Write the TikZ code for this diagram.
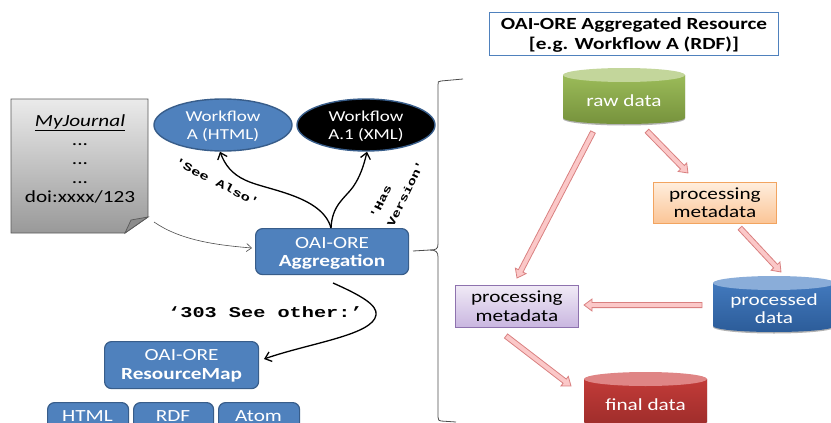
\documentclass[tikz,border=0pt]{standalone}
\usepackage{fontspec}
\setmainfont[FakeStretch=1.25]{Carlito}
\newfontfamily\lblmono[FakeStretch=1.35]{Liberation Mono}
\usetikzlibrary{calc,arrows.meta,shapes.geometric}
\definecolor{accentblue}{HTML}{4F81BD}
\definecolor{edgeblue}{HTML}{385D8A}
\definecolor{pinkfill}{HTML}{FBC8C8}
\definecolor{pinkedge}{HTML}{D98080}
\definecolor{grntop}{HTML}{C3D69B}
\definecolor{grnhi}{HTML}{9BBB59}
\definecolor{grnlo}{HTML}{76923C}
\definecolor{blutop}{HTML}{8AADD9}
\definecolor{bluhi}{HTML}{4279BD}
\definecolor{blulo}{HTML}{2C5C99}
\definecolor{redtop}{HTML}{DF8585}
\definecolor{redhi}{HTML}{C23B38}
\definecolor{redlo}{HTML}{9C2C2A}
\definecolor{orgA}{HTML}{FFEEDD}
\definecolor{orgB}{HTML}{FBC596}
\definecolor{orgE}{HTML}{F2A460}
\definecolor{purA}{HTML}{F0EAF6}
\definecolor{purB}{HTML}{C9B6E0}
\definecolor{purE}{HTML}{8E72AE}
\tikzset{
  x=1pt,y=-1pt,
  bluebox/.style={draw=edgeblue,line width=1.2pt,fill=accentblue,rounded corners=7pt,text=white,font=\fontsize{17}{18.5}\selectfont,align=center,inner sep=0pt,anchor=north west},
  blueoval/.style={ellipse,draw=edgeblue,line width=1.4pt,fill=accentblue,text=white,font=\fontsize{15.2}{17.5}\selectfont,align=center,inner sep=0pt},
  plainlabel/.style={font=\fontsize{17}{18.5}\selectfont,align=center,inner sep=0pt},
  whitelabel/.style={plainlabel,text=white},
  monolabel/.style={font=\lblmono\fontsize{15}{17}\selectfont,align=center,inner sep=0pt},
  bigblack/.style={draw=black,line width=1.3pt,-{Straight Barb[length=6pt,width=10pt]}},
  pinkarrow/.style={draw=pinkedge,line width=0.8pt,fill=pinkfill,line join=miter},
  procbox/.style={draw=#1,line width=0.8pt,inner sep=0pt,anchor=north west,align=center,font=\fontsize{17}{18.5}\selectfont},
  bracket/.style={draw=black!70,line width=0.8pt},
}
% text stack set lower than the centre of its node, by #1
\newcommand{\nudge}[2]{\raisebox{-#1}[\height][\depth]{\begin{tabular}{@{}c@{}}#2\end{tabular}}}
% #1 from, #2 to (named coordinates)
\newcommand{\blockarrow}[2]{%
  \coordinate (neck) at ($(#2)!8pt!(#1)$);
  \draw[pinkarrow]
    ($(#1)!2.6pt!90:(#2)$) -- ($(neck)!2.6pt!90:(#2)$) -- ($(neck)!6pt!90:(#2)$)
    -- (#2) -- ($(neck)!6pt!-90:(#2)$) -- ($(neck)!2.6pt!-90:(#2)$)
    -- ($(#1)!2.6pt!-90:(#2)$) -- cycle;
}
% #1 name, #2 x1, #3 y1, #4 x2, #5 y2, #6 top colour, #7 upper, #8 lower, #9 text
\newcommand{\datacyl}[9]{%
  \fill[black!30] (#2,#3+7) -- (#4,#3+7) -- (#4,#5-6) arc[x radius=(#4-#2)/2,y radius=6.5,start angle=0,end angle=180] -- cycle;
  \shade[top color=#7,bottom color=#8] (#2,#3+7) -- (#4,#3+7) -- (#4,#5-7) arc[x radius=(#4-#2)/2,y radius=6,start angle=0,end angle=180] -- cycle;
  \fill[#6] ({(#2+#4)/2},#3+7) ellipse[x radius=(#4-#2)/2,y radius=7];
  \node[whitelabel] (#1) at ({(#2+#4)/2},{(#3+#5)/2+4}) {#9};
}
\begin{document}
\begin{tikzpicture}
\useasboundingbox (0,0) rectangle (831,423);
\clip (0,0) rectangle (831,423);

% journal page
\shade[top color=white!92!black,bottom color=black!40,draw=black!65,line width=0.9pt]
  (11,99) -- (148,99) -- (148,217) -- (125,233) -- (11,233) -- cycle;
\fill[black!45,draw=black!65,line width=0.7pt] (148,217) -- (131,220) -- (125,233) -- cycle;
\node[plainlabel,anchor=north,font=\fontsize{17}{19}\selectfont] (journal) at (80,114) {\underline{\itshape MyJournal}\\...\\...\\...\\doi:xxxx/123};
\coordinate (journalout) at (154,222);

% resource title
\node[draw=accentblue,line width=1pt,fill=white,minimum width=289pt,minimum height=43pt,inner sep=0pt,anchor=north west,align=center,font=\bfseries\fontsize{17}{20}\selectfont] (title) at (489,12) {\nudge{2pt}{OAI-ORE Aggregated Resource\\{}[e.g. Workflow A (RDF)]}};

% ovals
\node[blueoval,minimum width=138pt,minimum height=52pt] (wfa) at (223,125) {\nudge{2pt}{Workflow\\A (HTML)}};
\node[blueoval,fill=black,minimum width=138pt,minimum height=52pt] (wfb) at (366,125) {\nudge{2pt}{Workflow\\A.1 (XML)}};

% rounded boxes
\node[bluebox,minimum width=153pt,minimum height=46pt] (agg) at (255,228) {\nudge{2pt}{OAI-ORE\\\textbf{Aggregation}}};
\node[bluebox,minimum width=154pt,minimum height=47pt] (map) at (104,341) {\nudge{1pt}{OAI-ORE\\\textbf{ResourceMap}}};
\node[bluebox,minimum width=81pt,minimum height=42pt] (html) at (47,402) {};
\node[whitelabel,text height=9pt,text depth=0pt] (htmllabel) at (87.5,416.5) {HTML};
\node[bluebox,minimum width=80pt,minimum height=42pt] (rdf) at (133,402) {};
\node[whitelabel,text height=9pt,text depth=0pt] (rdflabel) at (173,416.5) {RDF};
\node[bluebox,minimum width=81pt,minimum height=42pt] (atom) at (218,402) {};
\node[whitelabel,text height=9pt,text depth=0pt] (atomlabel) at (258.5,416.5) {Atom};

% black connectors
\coordinate (aggtop) at (331,228);
\coordinate (aggbelow) at (333,283);
\coordinate (aggwest) at (252,248);
\draw[bigblack] (aggtop) .. controls (322,195) and (265,190) .. (245,180) .. controls (232,174) and (225,165) .. (wfa.south -| 220,0);
\draw[bigblack] (aggtop) .. controls (332,205) and (345,198) .. (353,187) .. controls (360,177) and (364,165) .. (wfb.south -| 367,0);
\draw[bigblack] (aggbelow) .. controls (360,295) and (378,305) .. (376,315) .. controls (373,335) and (310,343) .. (264,359);
\draw[black!70,line width=0.6pt,-{Straight Barb[length=5pt,width=8pt]}] (journalout) .. controls (180,240) and (215,245) .. (aggwest);

% connector labels
\node[monolabel,font=\lblmono\bfseries\fontsize{11.4}{14}\selectfont,rotate=-27] (seealso) at (217,182) {'See Also'};
\node[monolabel,font=\lblmono\bfseries\fontsize{11}{19}\selectfont,rotate=64,align=left] (hasversion) at (397,190) {'Has\\Version'};
\node[monolabel,font=\lblmono\bfseries\fontsize{15}{17}\selectfont,anchor=west] (see303) at (168,312) {‘303 See other:’};

% brace
\coordinate (bracetop) at (463,79);
\coordinate (bracetip) at (413,251);
\coordinate (bracebot) at (456,422);
\draw[bracket] (bracetop) -- (441,81) .. controls (438,81) and (438,82) .. (438,85) -- (438,244)
  .. controls (438,249) and (436,250) .. (430,250) -- (bracetip);
\draw[bracket] (430,250) .. controls (436,250) and (438,252) .. (438,257) -- (438,417)
  .. controls (438,420) and (439,421) .. (441,421) -- (bracebot);

% data stores
\datacyl{raw}{563}{68}{685}{125}{grntop}{grnhi}{grnlo}{raw data}
\datacyl{processed}{713}{276}{835}{333}{blutop}{bluhi}{blulo}{processed\\data}
\datacyl{final}{584}{372}{707}{429}{redtop}{redhi}{redlo}{final data}

% process boxes
\node[procbox=orgE,top color=orgA,bottom color=orgB,minimum width=123pt,minimum height=41pt] (procA) at (653,182) {processing\\metadata};
\node[procbox=purE,top color=purA,bottom color=purB,minimum width=123pt,minimum height=42pt] (procB) at (455,285) {processing\\metadata};

% block arrows
\coordinate (a1s) at (647,131); \coordinate (a1e) at (688,173);
\coordinate (a2s) at (593,132); \coordinate (a2e) at (517,278);
\coordinate (a3s) at (740,228); \coordinate (a3e) at (781,272);
\coordinate (a4s) at (702,305); \coordinate (a4e) at (584,305);
\coordinate (a5s) at (506,336); \coordinate (a5e) at (571,386);
\blockarrow{a1s}{a1e}
\blockarrow{a2s}{a2e}
\blockarrow{a3s}{a3e}
\blockarrow{a4s}{a4e}
\blockarrow{a5s}{a5e}
\end{tikzpicture}
\end{document}
